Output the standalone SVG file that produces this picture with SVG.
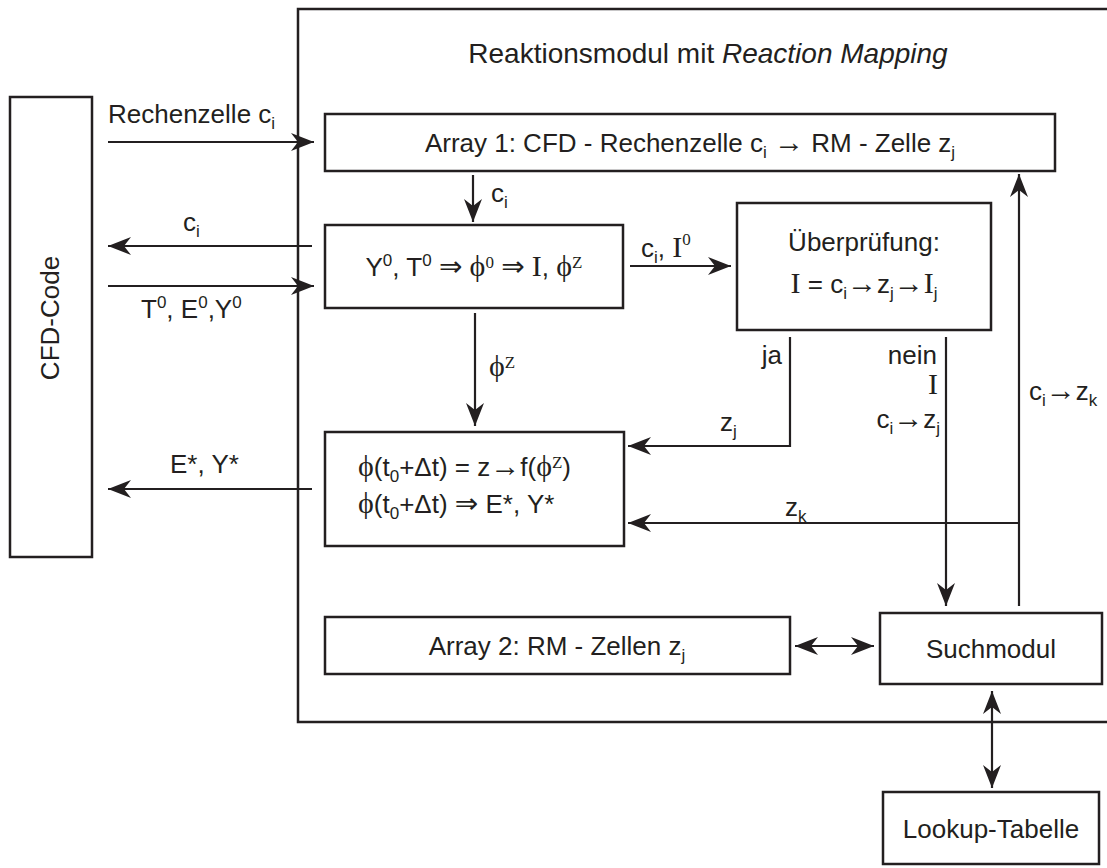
<svg xmlns="http://www.w3.org/2000/svg" width="1107" height="868" viewBox="0 0 1107 868">
<style>
.box{fill:#fff;stroke:#231f20;stroke-width:2.5}
.ln{fill:none;stroke:#231f20;stroke-width:2.2}
text{font-family:"Liberation Sans","DejaVu Sans",sans-serif;font-size:26px;fill:#231f20}
.s{font-family:"Liberation Serif","DejaVu Serif",serif}
.ph{font-family:"Liberation Serif","DejaVu Serif",serif;font-size:30px}
.sm{font-size:17px}
.ar{font-family:"Liberation Serif","DejaVu Sans",sans-serif;font-size:30px}
.dar{font-family:"DejaVu Sans",sans-serif;font-size:28px}
.I{font-family:"Liberation Serif","DejaVu Serif",serif;font-size:30px}
</style>
<defs>
<marker id="ah" markerUnits="userSpaceOnUse" markerWidth="30" markerHeight="20" viewBox="-24 -10 26 20" refX="0" refY="0" orient="auto-start-reverse">
<path d="M0,0 L-23,-9 L-16,0 L-23,9 Z" fill="#231f20"/>
</marker>
</defs>
<rect width="1107" height="868" fill="#fff"/>
<g id="outer">
<path class="ln" style="stroke-width:2.5" d="M1107,9 H298 V722 H1107"/>
<text x="708" y="63" text-anchor="middle" style="font-size:28px">Reaktionsmodul mit <tspan font-style="italic">Reaction Mapping</tspan></text>
</g>
<g id="cfd">
<rect class="box" x="10" y="97" width="82" height="460"/>
<text transform="translate(59,318) rotate(-90)" text-anchor="middle">CFD-Code</text>
</g>
<g id="array1">
<rect class="box" x="325" y="114" width="730" height="57"/>
<text x="690" y="152" text-anchor="middle">Array 1: CFD - Rechenzelle c<tspan class="sm" baseline-shift="-6">i</tspan> <tspan class="ar">→</tspan>  RM - Zelle z<tspan class="sm" baseline-shift="-6">j</tspan></text>
</g>
<g id="init">
<rect class="box" x="325" y="225" width="298" height="83"/>
<text x="474" y="276" text-anchor="middle">Y<tspan class="sm" baseline-shift="10">0</tspan>, T<tspan class="sm" baseline-shift="10">0</tspan> <tspan class="dar">⇒</tspan> <tspan class="ph">ϕ</tspan><tspan class="s sm" baseline-shift="8">0</tspan> <tspan class="dar">⇒</tspan> <tspan class="I">I</tspan>,  <tspan class="ph">ϕ</tspan><tspan class="s sm" baseline-shift="8">Z</tspan></text>
</g>
<g id="check">
<rect class="box" x="737" y="203" width="254" height="127"/>
<text x="864" y="251" text-anchor="middle">Überprüfung:</text>
<text x="864" y="293" text-anchor="middle"><tspan class="I">I</tspan> = c<tspan class="sm" baseline-shift="-6">i</tspan><tspan class="ar">→</tspan>z<tspan class="sm" baseline-shift="-6">j</tspan><tspan class="ar">→</tspan><tspan class="I">I</tspan><tspan class="sm" baseline-shift="-6">j</tspan></text>
</g>
<g id="result">
<rect class="box" x="325" y="432" width="299" height="114"/>
<text x="358" y="476"><tspan class="ph">ϕ</tspan>(t<tspan class="sm" baseline-shift="-6">0</tspan>+Δt) = z<tspan class="ar">→</tspan>f(<tspan class="ph">ϕ</tspan><tspan class="s sm" baseline-shift="8">Z</tspan>)</text>
<text x="358" y="513"><tspan class="ph">ϕ</tspan>(t<tspan class="sm" baseline-shift="-6">0</tspan>+Δt) <tspan class="dar">⇒</tspan> E*, Y*</text>
</g>
<g id="array2">
<rect class="box" x="325" y="617" width="465" height="57"/>
<text x="557" y="655" text-anchor="middle">Array 2: RM - Zellen z<tspan class="sm" baseline-shift="-6">j</tspan></text>
</g>
<g id="such">
<rect class="box" x="880" y="613" width="222" height="71"/>
<text x="991" y="658" text-anchor="middle">Suchmodul</text>
</g>
<g id="lookup">
<rect class="box" x="883" y="792" width="216" height="72"/>
<text x="991" y="838" text-anchor="middle">Lookup-Tabelle</text>
</g>
<g id="connectors">
<line class="ln" x1="108" y1="142" x2="314" y2="142" marker-end="url(#ah)"/>
<line class="ln" x1="312" y1="246" x2="108" y2="246" marker-end="url(#ah)"/>
<line class="ln" x1="108" y1="286" x2="314" y2="286" marker-end="url(#ah)"/>
<line class="ln" x1="312" y1="489" x2="108" y2="489" marker-end="url(#ah)"/>
<line class="ln" x1="473" y1="175" x2="473" y2="222" marker-end="url(#ah)"/>
<line class="ln" x1="630" y1="266" x2="731" y2="266" marker-end="url(#ah)"/>
<line class="ln" x1="475" y1="313" x2="475" y2="426" marker-end="url(#ah)"/>
<polyline class="ln" points="790,337 790,446 628,446" marker-end="url(#ah)"/>
<line class="ln" x1="946" y1="337" x2="946" y2="606" marker-end="url(#ah)"/>
<line class="ln" x1="1019" y1="606" x2="1019" y2="174" marker-end="url(#ah)"/>
<line class="ln" x1="1019" y1="523" x2="628" y2="523" marker-end="url(#ah)"/>
<line class="ln" x1="795" y1="646" x2="874" y2="646" marker-start="url(#ah)" marker-end="url(#ah)"/>
<line class="ln" x1="992" y1="691" x2="992" y2="788" marker-start="url(#ah)" marker-end="url(#ah)"/>
<text x="108" y="123">Rechenzelle c<tspan class="sm" baseline-shift="-6">i</tspan></text>
<text x="183" y="231">c<tspan class="sm" baseline-shift="-6">i</tspan></text>
<text x="141" y="318">T<tspan class="sm" baseline-shift="10">0</tspan>, E<tspan class="sm" baseline-shift="10">0</tspan>,Y<tspan class="sm" baseline-shift="10">0</tspan></text>
<text x="170" y="473">E*, Y*</text>
<text x="491" y="202">c<tspan class="sm" baseline-shift="-6">i</tspan></text>
<text x="641" y="257">c<tspan class="sm" baseline-shift="-6">i</tspan>, <tspan class="I">I</tspan><tspan class="s sm" baseline-shift="12">0</tspan></text>
<text x="489" y="376"><tspan class="ph">ϕ</tspan><tspan class="s sm" baseline-shift="8">Z</tspan></text>
<text x="782" y="364" text-anchor="end">ja</text>
<text x="937" y="364" text-anchor="end">nein</text>
<text x="938" y="394" text-anchor="end" class="I">I</text>
<text x="940" y="428" text-anchor="end">c<tspan class="sm" baseline-shift="-6">i</tspan><tspan class="ar">→</tspan>z<tspan class="sm" baseline-shift="-6">j</tspan></text>
<text x="720" y="431">z<tspan class="sm" baseline-shift="-6">j</tspan></text>
<text x="785" y="516">z<tspan class="sm" baseline-shift="-6">k</tspan></text>
<text x="1029" y="400">c<tspan class="sm" baseline-shift="-6">i</tspan><tspan class="ar">→</tspan>z<tspan class="sm" baseline-shift="-6">k</tspan></text>
</g>
</svg>
